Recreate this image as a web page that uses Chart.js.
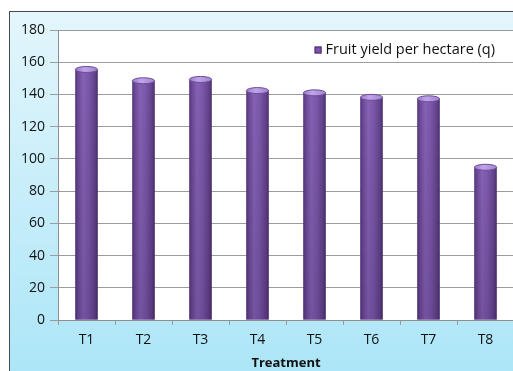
<!DOCTYPE html>
<html>
<head>
<meta charset="utf-8">
<script src="https://cdn.jsdelivr.net/npm/chart.js@4.4.0/dist/chart.umd.min.js"></script>
<style>
  html, body { margin: 0; padding: 0; background: #fff; overflow: hidden; }
  #wrap { position: relative; width: 513px; height: 371px; overflow: hidden; background: #fff; }
  #frame {
    position: absolute; left: 9px; top: 11px; width: 530px; height: 380px;
    border-top: 1px solid #4a4a4a; border-left: 1px solid #4a4a4a;
    background: linear-gradient(to bottom, #e3f6fc 0%, #c9eefa 45%, #a9e5f7 100%);
  }
  #box { position: absolute; left: 0; top: 0; width: 522px; height: 371px; }
</style>
</head>
<body>
<div id="wrap">
  <div id="frame"></div>
  <div id="box"><canvas id="bar-chart"></canvas></div>
</div>
<script>
// 처리별 과실 수량
let treatments = ["T1", "T2", "T3", "T4", "T5", "T6", "T7", "T8"];
let yieldPerHa = [155.5, 148.5, 149.3, 142.4, 141, 138.2, 137.3, 94.8];
let seriesName = "Fruit yield per hectare (q)";
let barColor = "#7a55a8";

Chart.defaults.font.family = "'Open Sans', 'Liberation Sans', sans-serif";
Chart.defaults.color = "#111";

// 플롯 영역 흰 배경
let plotBg = {
  id: "plotBg",
  beforeDraw: function(chart) {
    let a = chart.chartArea;
    let ctx = chart.ctx;
    ctx.save();
    ctx.fillStyle = "#ffffff";
    ctx.fillRect(a.left, a.top, a.right - a.left, a.bottom - a.top);
    ctx.restore();
  }
};

// 원통 모양 막대 (그라데이션 + 윗면 타원)
let cylinder = {
  id: "cylinder",
  afterDatasetsDraw: function(chart) {
    let ctx = chart.ctx;
    let meta = chart.getDatasetMeta(0);
    ctx.save();
    meta.data.forEach(function(bar) {
      let w = bar.width;
      let x0 = bar.x - w / 2;
      let top = bar.y;
      let bottom = bar.base;
      let g = ctx.createLinearGradient(x0, 0, x0 + w, 0);
      g.addColorStop(0, "#55377a");
      g.addColorStop(0.12, "#6c4a97");
      g.addColorStop(0.35, "#8661b5");
      g.addColorStop(0.6, "#7b57a9");
      g.addColorStop(0.88, "#62428b");
      g.addColorStop(1, "#4b306c");
      ctx.fillStyle = g;
      ctx.fillRect(x0, top, w, bottom - top);
      // 아래쪽 어둡게
      let v = ctx.createLinearGradient(0, top, 0, bottom);
      v.addColorStop(0, "rgba(0,0,0,0)");
      v.addColorStop(1, "rgba(20,0,40,0.15)");
      ctx.fillStyle = v;
      ctx.fillRect(x0, top, w, bottom - top);
      // 윗면
      ctx.beginPath();
      ctx.ellipse(bar.x, top, w / 2, 3, 0, 0, Math.PI * 2);
      let c = ctx.createLinearGradient(x0, 0, x0 + w, 0);
      c.addColorStop(0, "#9a7cc8");
      c.addColorStop(0.4, "#c0a4ea");
      c.addColorStop(1, "#a184d0");
      ctx.fillStyle = c;
      ctx.fill();
      ctx.strokeStyle = "#6a4a95";
      ctx.lineWidth = 1;
      ctx.stroke();
    });
    ctx.restore();
  }
};

// 플롯 안쪽 오른쪽 위 범례
let innerLegend = {
  id: "innerLegend",
  afterDraw: function(chart) {
    let a = chart.chartArea;
    let ctx = chart.ctx;
    let ds = chart.data.datasets[0];
    ctx.save();
    ctx.font = "14.5px 'Open Sans', sans-serif";
    ctx.textBaseline = "middle";
    let tw = ctx.measureText(ds.label).width;
    let tx = a.right - 19 - tw;
    let ty = a.top + 20;
    ctx.fillStyle = "#111";
    ctx.fillText(ds.label, tx, ty);
    ctx.fillStyle = ds.backgroundColor;
    ctx.fillRect(tx - 11, ty - 3.5, 7, 7);
    ctx.strokeStyle = "#4b306c";
    ctx.lineWidth = 1;
    ctx.strokeRect(tx - 10.5, ty - 3, 6, 6);
    ctx.restore();
  }
};

new Chart(document.getElementById("bar-chart"), {
  type: "bar",
  data: {
    labels: treatments,
    datasets: [{
      label: seriesName,
      backgroundColor: barColor,
      data: yieldPerHa,
      barPercentage: 0.39,
      categoryPercentage: 1
    }]
  },
  options: {
    responsive: true,
    maintainAspectRatio: false,
    animation: false,
    layout: { padding: { top: 30, right: 8, left: 0, bottom: 0 } },
    plugins: {
      legend: { display: false },
      tooltip: { enabled: false }
    },
    scales: {
      x: {
        afterFit: function(s) { s.height = 51; },
        grid: { drawOnChartArea: false, offset: true, tickLength: 5, color: "#9a9a9a" },
        border: { color: "#8f8f8f" },
        ticks: { padding: 7, font: { size: 14 }, color: "#111" },
        title: {
          display: true,
          text: "Treatment",
          font: { size: 13, weight: "bold" },
          color: "#111",
          padding: { top: 2, bottom: 0 }
        }
      },
      y: {
        min: 0,
        max: 180,
        afterFit: function(s) { s.width = 58; },
        grid: { color: "#9c9c9c", tickLength: 8 },
        border: { color: "#8f8f8f" },
        ticks: { stepSize: 20, padding: 5, font: { size: 14 }, color: "#111" }
      }
    }
  },
  plugins: [plotBg, cylinder, innerLegend]
});
</script>
</body>
</html>
